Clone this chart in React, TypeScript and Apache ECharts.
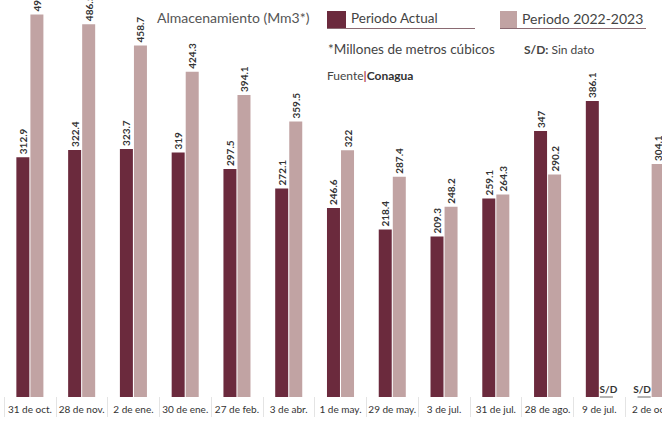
import React, { useEffect, useRef } from 'react';
import * as echarts from 'echarts';

const categories = ['31 de oct.', '28 de nov.', '2 de ene.', '30 de ene.', '27 de feb.', '3 de abr.', '1 de may.', '29 de may.', '3 de jul.', '31 de jul.', '28 de ago.', '9 de jul.', '2 de oct.'];
const actual: (number | null)[] = [312.9, 322.4, 323.7, 319, 297.5, 272.1, 246.6, 218.4, 209.3, 259.1, 347, 386.1, null];
const previous: (number | null)[] = [499, 486.5, 458.7, 424.3, 394.1, 359.5, 322, 287.4, 248.2, 264.3, 290.2, null, 304.1];

const FONT = '"Liberation Sans Narrow", Lato, "Noto Sans", sans-serif';
const DARK = '#6b2a3d';
const LIGHT = '#c1a3a3';

function toItems(arr: (number | null)[], dx: number) {
  return arr.map((v) =>
    v === null
      ? {
          value: 0,
          itemStyle: { borderColor: '#9a9a9a', borderWidth: 1 },
          label: {
            show: true,
            formatter: 'S/D',
            rotate: 0,
            position: 'top',
            align: 'center',
            verticalAlign: 'bottom',
            distance: 3,
            offset: [dx, 0],
            fontSize: 10,
            fontWeight: 'bold',
            color: '#333',
            fontFamily: FONT,
          },
        }
      : { value: v }
  );
}

export default function App() {
  const ref = useRef<HTMLDivElement>(null);
  useEffect(() => {
    const chart = echarts.init(ref.current!, null, { renderer: 'svg' });
    const barLabel = {
      show: true,
      position: 'top',
      rotate: 90,
      align: 'left',
      verticalAlign: 'middle',
      distance: 3,
      fontSize: 10,
      fontWeight: 'bold',
      color: '#333',
      fontFamily: FONT,
      formatter: (p: any) => String(p.value),
    };
    chart.setOption({
      animation: false,
      backgroundColor: '#fff',
      grid: { left: 4, top: 0, width: 673, bottom: 25, containLabel: false },
      xAxis: {
        type: 'category',
        data: categories,
        axisLine: { show: false },
        axisTick: { show: true, length: 20, lineStyle: { color: '#e4e4e4' } },
        axisLabel: { margin: 7, fontSize: 10, color: '#333', fontFamily: FONT, interval: 0 },
      },
      yAxis: { type: 'value', min: 0, max: 518, show: false, splitLine: { show: false } },
      series: [
        {
          name: 'Periodo Actual',
          type: 'bar',
          data: toItems(actual, -2),
          barWidth: 13,
          barGap: '8%',
          itemStyle: { color: DARK },
          label: barLabel,
        },
        {
          name: 'Periodo 2022-2023',
          type: 'bar',
          data: toItems(previous, 2),
          barWidth: 13,
          itemStyle: { color: LIGHT },
          label: barLabel,
        },
      ],
      graphic: [
        { type: 'text', left: 157, top: 10, style: { text: 'Almacenamiento (Mm3*)', fontSize: 14, fill: '#555', fontFamily: FONT } },
        { type: 'rect', shape: { x: 327, y: 11, width: 19, height: 17 }, style: { fill: DARK } },
        { type: 'text', left: 351, top: 11, style: { text: 'Periodo Actual', fontSize: 13.5, fill: '#444', fontFamily: FONT } },
        { type: 'line', shape: { x1: 327, y1: 28.5, x2: 475, y2: 28.5 }, style: { stroke: '#8a6a72', lineWidth: 1 } },
        { type: 'rect', shape: { x: 500, y: 11, width: 17, height: 17 }, style: { fill: LIGHT } },
        { type: 'text', left: 522, top: 11, style: { text: 'Periodo 2022-2023', fontSize: 14, fill: '#444', fontFamily: FONT } },
        { type: 'line', shape: { x1: 500, y1: 28.5, x2: 646, y2: 28.5 }, style: { stroke: '#8a6a72', lineWidth: 1 } },
        { type: 'text', left: 328, top: 42, style: { text: '*Millones de metros cúbicos', fontSize: 13.5, fill: '#444', fontFamily: FONT } },
        {
          type: 'text',
          left: 524,
          top: 43,
          style: {
            text: '{b|S/D:} Sin dato',
            fontSize: 12,
            fill: '#444',
            fontFamily: FONT,
            rich: { b: { fontWeight: 'bold', fontSize: 12, fill: '#444', fontFamily: FONT } },
          },
        },
        {
          type: 'text',
          left: 327,
          top: 69,
          style: {
            text: 'Fuente{p||}{b|Conagua}',
            fontSize: 12,
            fill: '#444',
            fontFamily: FONT,
            rich: {
              p: { fill: '#b04050', fontSize: 12, fontFamily: FONT, fontWeight: 'bold' },
              b: { fontWeight: 'bold', fontSize: 12, fill: '#333', fontFamily: FONT },
            },
          },
        },
      ],
    });
    return () => chart.dispose();
  }, []);
  return (
    <div
      ref={ref}
      style={{ position: 'fixed', left: 0, top: 0, width: 690, height: 422, background: '#fff' }}
    />
  );
}
